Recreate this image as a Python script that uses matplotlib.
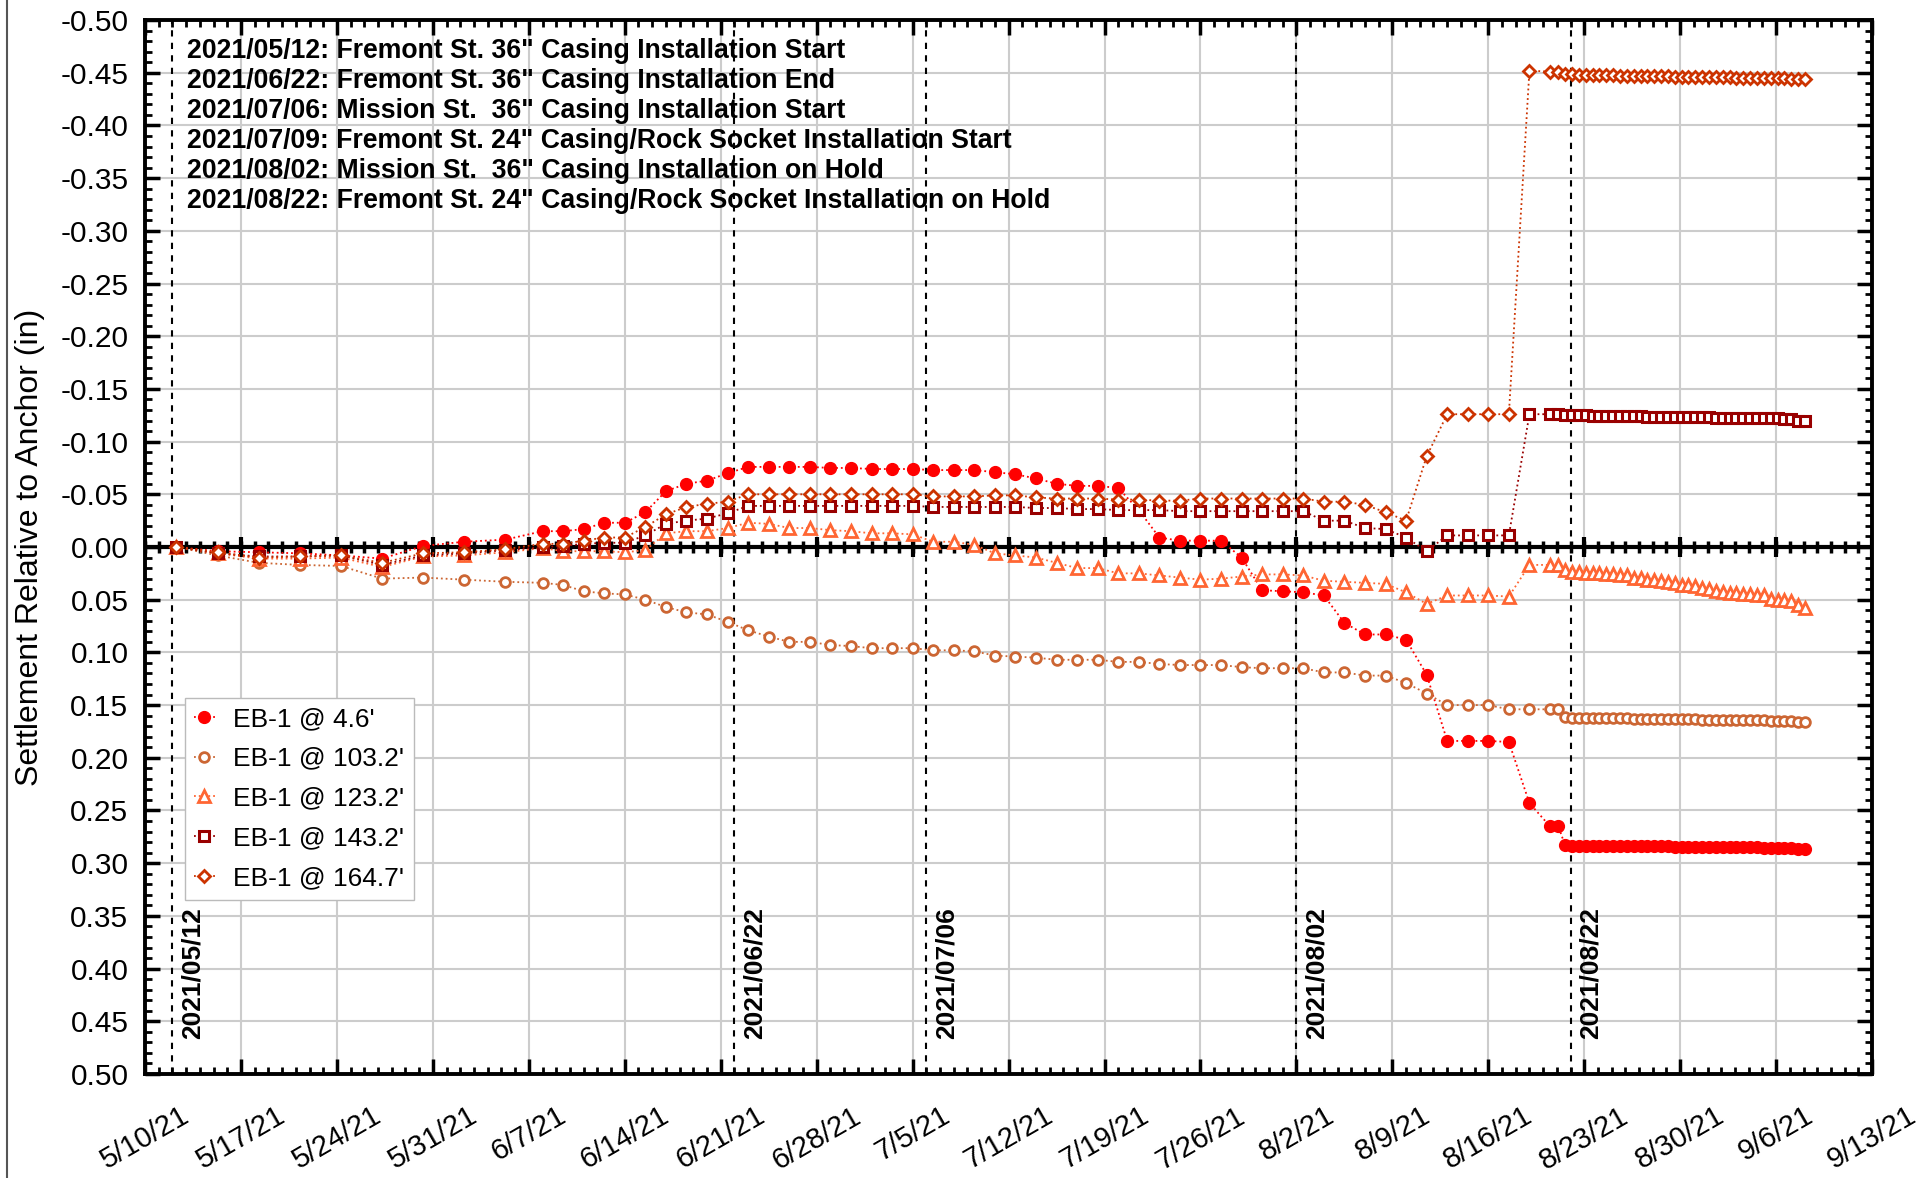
import numpy as np
import pandas as pd
import matplotlib
matplotlib.use('Agg')
import matplotlib.pyplot as plt
import matplotlib.dates as mdates
from matplotlib.ticker import MultipleLocator, FuncFormatter
from matplotlib.lines import Line2D

plt.rcParams['font.family'] = ['Liberation Sans', 'DejaVu Sans']

# reading times: every 3 days, then every 36 h, then twice a day
t_early = pd.date_range('2021-05-12 07:00', periods=9, freq='3D')
t_mid = pd.date_range('2021-06-08 00:00', periods=50, freq='36h')
t_extra = pd.to_datetime(['2021-08-21 02:30'])
t_late = pd.date_range('2021-08-21 14:30', periods=36, freq='12h')
times = t_early.append(t_mid).append(t_extra).append(t_late)

# settlement (in), negative = heave
eb_46 = ([0.000, 0.004, 0.005, 0.006, 0.008, 0.011, -0.001, -0.005, -0.007]
         + [-0.015, -0.015, -0.017, -0.023, -0.023, -0.033, -0.053, -0.060, -0.063, -0.070]
         + [-0.076, -0.076, -0.076, -0.076, -0.075, -0.075, -0.074, -0.074, -0.074, -0.073,
            -0.073, -0.073, -0.071, -0.069, -0.065, -0.060, -0.058, -0.058, -0.056]
         + [-0.035, -0.009, -0.006, -0.006, -0.006, 0.010, 0.041, 0.042, 0.043, 0.046, 0.072, 0.083, 0.083]
         + [0.088, 0.121, 0.184, 0.184, 0.184, 0.185, 0.243, 0.265]
         + [0.265]
         + [0.283, 0.284, 0.284, 0.284, 0.284, 0.284, 0.284, 0.284, 0.284, 0.284, 0.284, 0.284,
            0.284, 0.284, 0.284, 0.284, 0.285, 0.285, 0.285, 0.285, 0.285, 0.285, 0.285, 0.285,
            0.285, 0.285, 0.285, 0.285, 0.285, 0.286, 0.286, 0.286, 0.286, 0.286, 0.287, 0.287])

eb_1032 = ([0.000, 0.008, 0.015, 0.017, 0.018, 0.030, 0.029, 0.031, 0.033]
           + [0.034, 0.036, 0.042, 0.044, 0.045, 0.050, 0.057, 0.062, 0.064, 0.071]
           + [0.079, 0.085, 0.090, 0.090, 0.093, 0.094, 0.096, 0.096, 0.096, 0.098,
              0.098, 0.099, 0.103, 0.104, 0.105, 0.107, 0.107, 0.107, 0.109]
           + [0.109, 0.111, 0.112, 0.112, 0.112, 0.114, 0.115, 0.115, 0.115, 0.119, 0.119, 0.122, 0.122]
           + [0.129, 0.139, 0.150, 0.150, 0.150, 0.154, 0.154, 0.154]
           + [0.154]
           + [0.161, 0.162, 0.162, 0.162, 0.162, 0.162, 0.162, 0.162, 0.162, 0.162, 0.163, 0.163,
              0.163, 0.163, 0.163, 0.163, 0.163, 0.163, 0.163, 0.163, 0.164, 0.164, 0.164, 0.164,
              0.164, 0.164, 0.164, 0.164, 0.164, 0.164, 0.165, 0.165, 0.165, 0.165, 0.166, 0.166])

eb_1232 = ([0.000, 0.006, 0.011, 0.011, 0.010, 0.019, 0.009, 0.008, 0.005]
           + [0.001, 0.004, 0.004, 0.004, 0.005, 0.003, -0.013, -0.015, -0.015, -0.018]
           + [-0.023, -0.022, -0.018, -0.018, -0.016, -0.015, -0.013, -0.013, -0.012, -0.005,
              -0.005, -0.002, 0.006, 0.008, 0.010, 0.015, 0.020, 0.020, 0.025]
           + [0.025, 0.027, 0.029, 0.031, 0.030, 0.028, 0.026, 0.026, 0.027, 0.032, 0.033, 0.034, 0.035]
           + [0.043, 0.054, 0.046, 0.046, 0.046, 0.047, 0.017, 0.017]
           + [0.017]
           + [0.022, 0.024, 0.024, 0.025, 0.025, 0.025, 0.026, 0.026, 0.027, 0.027, 0.029, 0.029,
              0.031, 0.031, 0.032, 0.033, 0.034, 0.036, 0.036, 0.037, 0.039, 0.040, 0.042, 0.043,
              0.044, 0.044, 0.045, 0.045, 0.046, 0.046, 0.049, 0.050, 0.050, 0.051, 0.055, 0.058])

eb_1432 = ([0.000, 0.006, 0.009, 0.009, 0.008, 0.017, 0.008, 0.006, 0.003]
           + [0.000, -0.001, -0.003, -0.004, -0.004, -0.011, -0.022, -0.025, -0.027, -0.032]
           + [-0.039, -0.039, -0.039, -0.039, -0.039, -0.039, -0.039, -0.039, -0.039, -0.038,
              -0.038, -0.038, -0.038, -0.038, -0.037, -0.037, -0.036, -0.036, -0.035]
           + [-0.035, -0.035, -0.034, -0.034, -0.034, -0.034, -0.034, -0.034, -0.034, -0.025, -0.025, -0.018, -0.017]
           + [-0.009, 0.004, -0.011, -0.011, -0.011, -0.011, -0.126, -0.126]
           + [-0.126]
           + [-0.125, -0.125, -0.125, -0.125, -0.124, -0.124, -0.124, -0.124, -0.124, -0.124, -0.124, -0.124,
              -0.123, -0.123, -0.123, -0.123, -0.123, -0.123, -0.123, -0.123, -0.123, -0.123, -0.122, -0.122,
              -0.122, -0.122, -0.122, -0.122, -0.122, -0.122, -0.122, -0.122, -0.121, -0.121, -0.120, -0.120])

eb_1647 = ([0.000, 0.005, 0.010, 0.009, 0.008, 0.015, 0.006, 0.005, 0.002]
           + [-0.003, -0.003, -0.006, -0.009, -0.009, -0.019, -0.031, -0.038, -0.041, -0.043]
           + [-0.050, -0.050, -0.050, -0.050, -0.050, -0.050, -0.050, -0.050, -0.050, -0.048,
              -0.048, -0.048, -0.049, -0.049, -0.047, -0.046, -0.046, -0.046, -0.045]
           + [-0.045, -0.044, -0.044, -0.046, -0.046, -0.046, -0.046, -0.046, -0.046, -0.043, -0.043, -0.040, -0.033]
           + [-0.025, -0.086, -0.126, -0.126, -0.126, -0.126, -0.452, -0.451]
           + [-0.451]
           + [-0.449, -0.449, -0.448, -0.448, -0.448, -0.448, -0.448, -0.448, -0.447, -0.447, -0.447, -0.447,
              -0.447, -0.447, -0.447, -0.447, -0.446, -0.446, -0.446, -0.446, -0.446, -0.446, -0.446, -0.446,
              -0.446, -0.445, -0.445, -0.445, -0.445, -0.445, -0.445, -0.445, -0.445, -0.444, -0.444, -0.444])

labels = ["EB-1 @ 4.6'", "EB-1 @ 103.2'", "EB-1 @ 123.2'", "EB-1 @ 143.2'", "EB-1 @ 164.7'"]

event_dates = ['2021-05-12', '2021-06-22', '2021-07-06', '2021-08-02', '2021-08-22']
event_labels = ['2021/05/12', '2021/06/22', '2021/07/06', '2021/08/02', '2021/08/22']
notes = ['2021/05/12: Fremont St. 36" Casing Installation Start',
         '2021/06/22: Fremont St. 36" Casing Installation End',
         '2021/07/06: Mission St.  36" Casing Installation Start',
         '2021/07/09: Fremont St. 24" Casing/Rock Socket Installation Start',
         '2021/08/02: Mission St.  36" Casing Installation on Hold',
         '2021/08/22: Fremont St. 24" Casing/Rock Socket Installation on Hold']

x_start, x_end = '2021-05-10', '2021-09-13'

series = [eb_46, eb_1032, eb_1232, eb_1432, eb_1647]
styles = [
    dict(color='#ff0000', marker='o', mfc='#ff0000', ms=8.5, mew=1.0),
    dict(color='#cc6633', marker='o', mfc='white', ms=7.0, mew=2.0),
    dict(color='#ff6633', marker='^', mfc='white', ms=8.0, mew=2.0),
    dict(color='#990000', marker='s', mfc='white', ms=7.0, mew=2.2),
    dict(color='#cc3300', marker='D', mfc='white', ms=6.0, mew=2.0),
]

fig = plt.figure(figsize=(19.29, 11.78), dpi=100)
ax = fig.add_axes([0.0752, 0.0883, 0.8953, 0.8947])

for vals, lab, st in zip(series, labels, styles):
    ax.plot(times, vals, ls=':', lw=1.3, label=lab, zorder=4, **st)

# zero axis with day ticks
ax.axhline(0, color='black', lw=3, zorder=3)
days = pd.date_range(x_start, x_end, freq='D')
weeks = pd.date_range(x_start, x_end, freq='7D')
ax.plot(days, np.zeros(len(days)), ls='none', marker='|', ms=8, mew=2.5, color='black', zorder=3)
ax.plot(weeks, np.zeros(len(weeks)), ls='none', marker='|', ms=15, mew=3, color='black', zorder=3)

for d, lbl in zip(event_dates, event_labels):
    dt = pd.Timestamp(d)
    ax.axvline(dt, color='black', ls=(0, (3, 3)), lw=1.5, zorder=3)
    ax.annotate(lbl, xy=(dt, 0.467), xytext=(6, 0), textcoords='offset points',
                rotation=90, ha='left', va='bottom', fontsize=19, fontweight='bold')

ax.text(0.0243, 0.983, '\n'.join(notes), transform=ax.transAxes, va='top', ha='left',
        fontsize=19.2, fontweight='bold', linespacing=1.2)

ax.set_xlim(pd.Timestamp(x_start), pd.Timestamp(x_end))
ax.set_ylim(0.5, -0.5)
ax.xaxis.set_major_locator(mdates.WeekdayLocator(byweekday=mdates.MO))
ax.xaxis.set_minor_locator(mdates.DayLocator())
ax.xaxis.set_major_formatter(FuncFormatter(
    lambda x, pos: (lambda d: f"{d.month}/{d.day}/{d:%y}")(mdates.num2date(x))))
ax.yaxis.set_major_locator(MultipleLocator(0.05))
ax.yaxis.set_minor_locator(MultipleLocator(0.01))
ax.yaxis.set_major_formatter(FuncFormatter(lambda v, pos: f"{0.0 if abs(v) < 1e-9 else v:.2f}"))

ax.tick_params(which='both', direction='in', top=True, right=True)
ax.tick_params(which='major', length=11, width=2.5)
ax.tick_params(which='minor', length=5, width=2)
ax.tick_params(axis='y', labelsize=21.5, pad=12)
ax.tick_params(axis='x', labelsize=21, pad=20, labelrotation=30)
for lab in ax.get_xticklabels():
    lab.set_ha('center')
for sp in ax.spines.values():
    sp.set_linewidth(2.8)

ax.grid(True, which='major', color='#cccccc', lw=1.5)
ax.set_axisbelow(True)

ax.set_ylabel('Settlement Relative to Anchor (in)', fontsize=23)
ax.yaxis.set_label_coords(-0.058, 0.5)

ax.legend(loc='upper left', bbox_to_anchor=(0.0229, 0.357), fontsize=19, frameon=True,
          fancybox=False, edgecolor='#bbbbbb', framealpha=1, borderaxespad=0,
          handlelength=0.8, handletextpad=0.7, labelspacing=0.6, borderpad=0.35)

fig.add_artist(Line2D([0.0036, 0.0036], [0, 1], transform=fig.transFigure, color='#555555', lw=1.5))

fig.savefig('out.png', dpi=100)
